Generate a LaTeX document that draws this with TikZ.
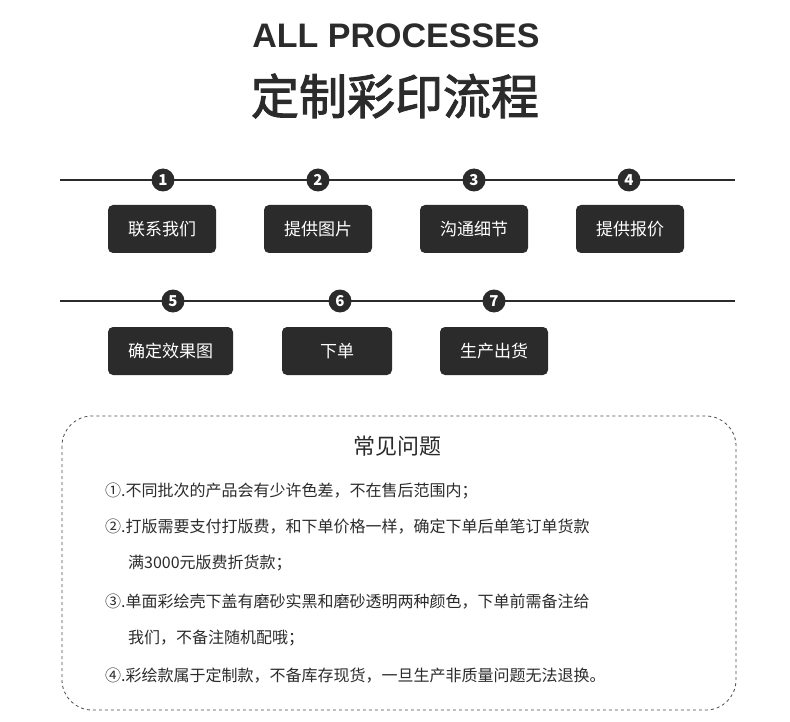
\documentclass[tikz,border=0pt]{standalone}
\usepackage{fontspec}
\setmainfont{Noto Sans CJK SC}
\newfontfamily\titlefont{Liberation Sans}
\newfontfamily\cjktitle[FakeBold=2]{Noto Sans CJK SC}
\definecolor{ink}{HTML}{2B2B2B}
\begin{document}
\begin{tikzpicture}[x=1pt,y=-1pt,
  stepbox/.style={fill=ink,rounded corners=5pt,text=white,font=\fontsize{17}{20}\selectfont,minimum height=48pt,inner sep=0pt},
  num/.style={circle,fill=ink,text=white,minimum size=23pt,inner sep=0pt,font=\bfseries\fontsize{15}{15}\selectfont},
  rule/.style={line width=1.2pt,ink},
  faq/.style={anchor=west,inner sep=0pt,font=\fontsize{16}{18}\selectfont,text=ink}]
\useasboundingbox (0,0) rectangle (790,722);
\node[text=ink] (t1) at (396,36) {\titlefont\bfseries\fontsize{34}{36}\selectfont ALL PROCESSES};
\node[text=ink] (t2) at (395,96) {\cjktitle\fontsize{48}{52}\selectfont 定制彩印流程};
\coordinate (l1a) at (60,180); \coordinate (l1b) at (735,180);
\draw[rule] (l1a) -- (l1b);
\coordinate (l2a) at (60,301); \coordinate (l2b) at (735,301);
\draw[rule] (l2a) -- (l2b);
\node[num] (n1) at (163,180) {1};
\node[num] (n2) at (318,180) {2};
\node[num] (n3) at (474,180) {3};
\node[num] (n4) at (629,180) {4};
\node[num] (n5) at (173,301) {5};
\node[num] (n6) at (340,301) {6};
\node[num] (n7) at (494,301) {7};
\node[stepbox,minimum width=108pt] (b1) at (162,229) {联系我们};
\node[stepbox,minimum width=108pt] (b2) at (318,229) {提供图片};
\node[stepbox,minimum width=108pt] (b3) at (474,229) {沟通细节};
\node[stepbox,minimum width=108pt] (b4) at (630,229) {提供报价};
\node[stepbox,minimum width=125pt] (b5) at (170.5,351) {确定效果图};
\node[stepbox,minimum width=110pt] (b6) at (337,351) {下单};
\node[stepbox,minimum width=108pt] (b7) at (494,351) {生产出货};
\draw[dashed,black!70,line width=0.8pt,rounded corners=30pt] (62,416) rectangle (736,710);
\node[text=ink] (q) at (397,446) {\fontsize{22}{24}\selectfont 常见问题};
\node[faq] (f1) at (105,491) {①.不同批次的产品会有少许色差，不在售后范围内；};
\node[faq] (f2) at (105,527) {②.打版需要支付打版费，和下单价格一样，确定下单后单笔订单货款};
\node[faq] (f3) at (128,563) {满3000元版费折货款；};
\node[faq] (f4) at (105,602) {③.单面彩绘壳下盖有磨砂实黑和磨砂透明两种颜色，下单前需备注给};
\node[faq] (f5) at (128,638) {我们，不备注随机配哦；};
\node[faq] (f6) at (105,676) {④.彩绘款属于定制款，不备库存现货，一旦生产非质量问题无法退换。};
\end{tikzpicture}
\end{document}
